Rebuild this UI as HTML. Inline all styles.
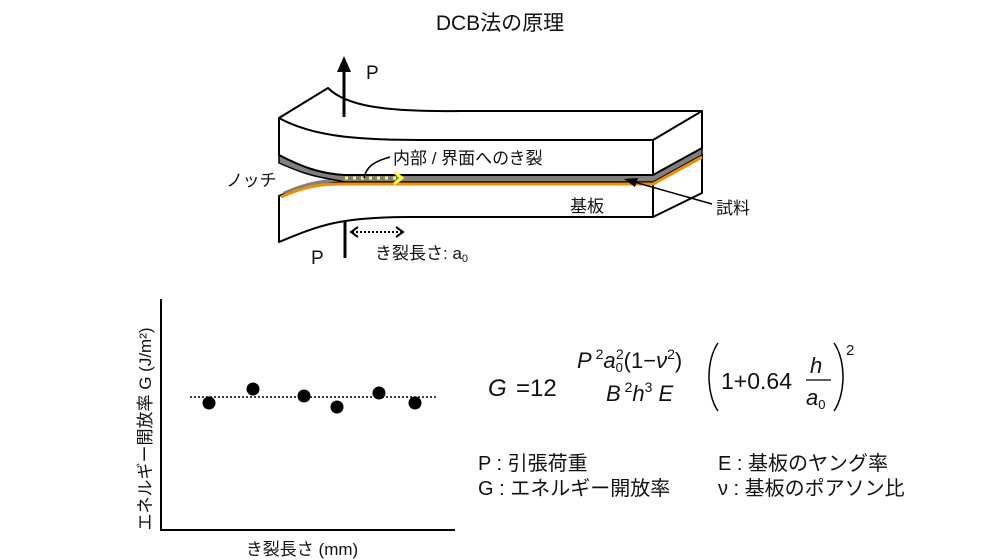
<!DOCTYPE html>
<html><head><meta charset="utf-8"><style>
body{margin:0;background:#fff;}
svg{display:block;}
text{font-family:"Liberation Sans","Noto Sans CJK JP",sans-serif;fill:#111;}
.it{font-style:italic;}
</style></head><body>
<svg width="1000" height="560" viewBox="0 0 1000 560" xmlns="http://www.w3.org/2000/svg">
<text x="500" y="30" font-size="21" text-anchor="middle">DCB法の原理</text>
<g stroke="#000" stroke-width="2" fill="#fff" stroke-linejoin="round">
<!-- bottom beam -->
<path d="M279,196 C298,188 315,183 335,182 L653,182 L702,155 L702,193 L653,217 L410,217 C340,217 320,225 279,242 Z"/>
<path d="M653,182 L653,217" fill="none"/>
<!-- grey wedge on bottom -->
<path d="M283,192 C298,185 315,180 332,179 L345,181 C320,183 300,188 283,194 Z" fill="#808080" stroke="none"/>
<!-- grey layer under top beam -->
<path d="M279,155 C300,166 320,174 345,175 L653,175 L702,148 L702,155 L653,182 L345,182 L330,179 C310,176 295,170 279,163 Z" fill="#808080" stroke-width="1.5"/>
<path d="M281,197 C300,188 318,184 340,184 L653,184 L702,157" fill="none" stroke="#f28c00" stroke-width="3"/>
<!-- top beam -->
<path d="M279,118 L328,88 C345,105 380,112 460,111 L702,111 L702,148 L653,175 L345,175 C320,174 300,166 279,155 Z"/>
<path d="M279,118 C310,135 350,140 420,140 L653,140 L702,111 M653,140 L653,175" fill="none"/>
</g>
<!-- forces -->
<line x1="344" y1="117" x2="344" y2="70" stroke="#000" stroke-width="3"/>
<polygon points="337,72 351,72 344,56" fill="#000"/>
<text x="366" y="79" font-size="19">P</text>
<line x1="345" y1="222" x2="345" y2="258" stroke="#000" stroke-width="3"/>
<text x="311" y="264" font-size="19">P</text>
<line x1="352" y1="232" x2="402" y2="232" stroke="#000" stroke-width="2" stroke-dasharray="2,2"/>
<path d="M358,227 L351,232 L358,237 M396,227 L403,232 L396,237" stroke="#000" stroke-width="2" fill="none"/>
<text x="375" y="259" font-size="17">き裂長さ: a<tspan font-size="11" dy="3">0</tspan></text>
<!-- crack -->
<line x1="345" y1="178" x2="398" y2="178" stroke="#ffff33" stroke-width="3" stroke-dasharray="3,5"/>
<path d="M394,172 L402,178 L394,184" stroke="#ffff33" stroke-width="3" fill="none"/>
<path d="M364,178 C366,168 372,162 390,157" stroke="#000" stroke-width="1.5" fill="none"/>
<text x="393" y="164" font-size="17">内部 / 界面へのき裂</text>
<text x="226" y="186" font-size="17">ノッチ</text>
<text x="570" y="212" font-size="17">基板</text>
<line x1="712" y1="204" x2="634" y2="182" stroke="#000" stroke-width="1.5"/>
<polygon points="624,179 638,178 635,187" fill="#000"/>
<text x="716" y="214" font-size="17">試料</text>
<!-- graph -->
<path d="M161,299 L161,530 L455,530" stroke="#000" stroke-width="2" fill="none"/>
<line x1="190" y1="397" x2="436" y2="397" stroke="#000" stroke-width="1.5" stroke-dasharray="2,2"/>
<g fill="#000"><circle cx="209" cy="403" r="6.5"/><circle cx="253" cy="389" r="6.5"/><circle cx="304" cy="396" r="6.5"/><circle cx="337" cy="407" r="6.5"/><circle cx="379" cy="393" r="6.5"/><circle cx="415" cy="403" r="6.5"/></g>
<text transform="translate(151,429) rotate(-90)" font-size="17" text-anchor="middle">エネルギー開放率 G (J/m²)</text>
<text x="302" y="555" font-size="17" text-anchor="middle">き裂長さ (mm)</text>
<!-- formula -->
<text x="488" y="396" font-size="24" class="it">G</text>
<text x="516" y="396" font-size="24">=12</text>
<text x="577" y="368" font-size="22"><tspan class="it">P</tspan><tspan font-size="14" dy="-9"> 2</tspan><tspan class="it" dy="9">a</tspan><tspan font-size="13" dy="4">0</tspan><tspan font-size="14" dy="-13" dx="-7">2</tspan><tspan dy="9">(1−</tspan><tspan class="it">ν</tspan><tspan font-size="14" dy="-9">2</tspan><tspan dy="9">)</tspan></text>
<text x="606" y="401" font-size="22"><tspan class="it">B</tspan><tspan font-size="14" dy="-9"> 2</tspan><tspan class="it" dy="9">h</tspan><tspan font-size="14" dy="-9">3</tspan><tspan class="it" dy="9"> E</tspan></text>
<path d="M718,343 C706,360 706,394 718,411" stroke="#000" stroke-width="1.5" fill="none"/>
<path d="M834,343 C846,360 846,394 834,411" stroke="#000" stroke-width="1.5" fill="none"/>
<text x="721" y="389" font-size="23">1+0.64</text>
<text x="810" y="373" font-size="22" class="it">h</text>
<line x1="806" y1="380" x2="831" y2="380" stroke="#000" stroke-width="1.2"/>
<text x="806" y="405" font-size="22" class="it">a<tspan font-size="13" dy="4" font-style="normal">0</tspan></text>
<text x="846" y="355" font-size="15">2</text>
<!-- legend -->
<text x="478" y="470" font-size="20">P : 引張荷重</text>
<text x="718" y="470" font-size="20">E  : 基板のヤング率</text>
<text x="478" y="495" font-size="20">G : エネルギー開放率</text>
<text x="718" y="495" font-size="20">ν : 基板のポアソン比</text>
</svg>
</body></html>
